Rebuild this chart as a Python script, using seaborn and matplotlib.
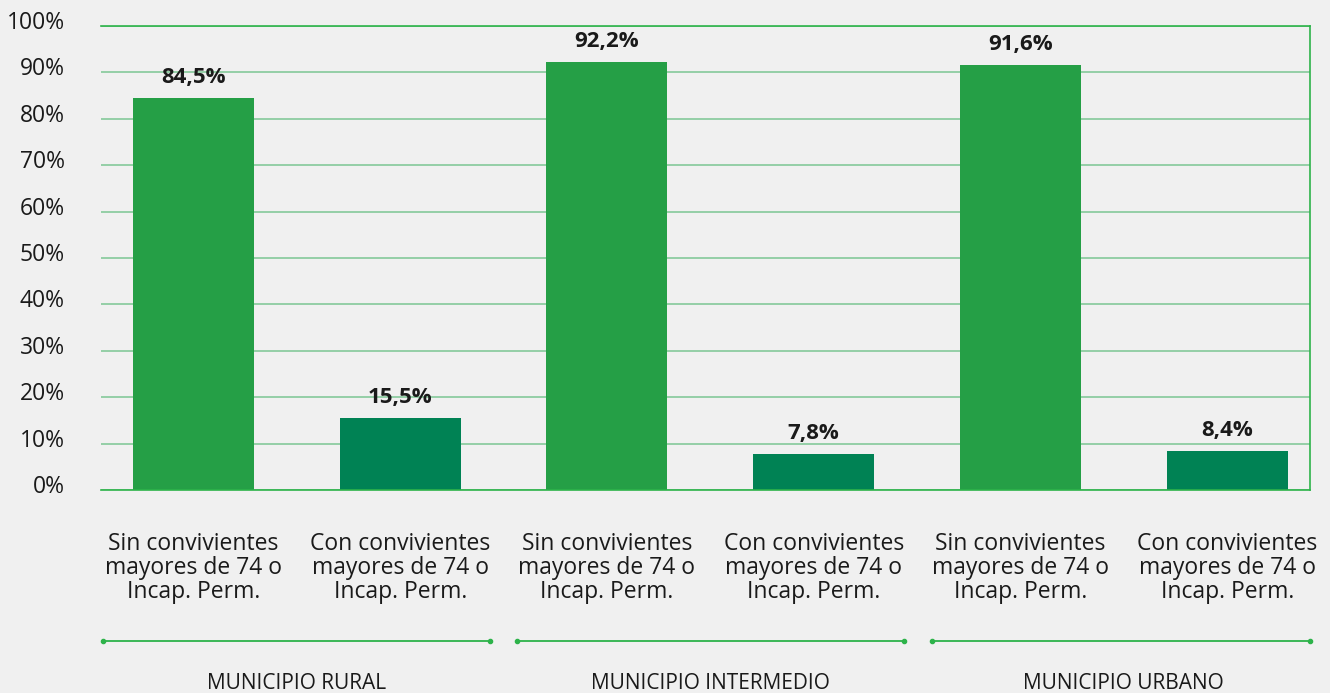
import matplotlib
matplotlib.use("Agg")
import matplotlib.pyplot as plt
import matplotlib.transforms as mtransforms
import numpy as np
import pandas as pd
import seaborn as sns

# ── Data ──────────────────────────────────────────────────────────────────────
grupos  = ["MUNICIPIO RURAL", "MUNICIPIO INTERMEDIO", "MUNICIPIO URBANO"]
tipos   = ["Sin convivientes\nmayores de 74 o\nIncap. Perm.",
           "Con convivientes\nmayores de 74 o\nIncap. Perm."]
valores = [84.5, 15.5, 92.2, 7.8, 91.6, 8.4]
y_ticks = [0, 10, 20, 30, 40, 50, 60, 70, 80, 90, 100]

BG        = "#f0f0f0"
VERDE     = "#259f46"
VERDE_OSC = "#008254"
LINEA     = "#2db34a"
GRID      = "#84c99a"
TEXTO     = "#1a1a1a"

sns.set_theme(style="white")
plt.rcParams["font.family"] = ["Open Sans", "DejaVu Sans"]
plt.rcParams.update({"figure.facecolor": BG, "axes.facecolor": BG})

rows = []
for g in grupos:
    for t in tipos:
        rows.append({"grupo": g, "tipo": t})
df = pd.DataFrame(rows)
df["valor"] = valores
df["clave"] = df["grupo"] + "|" + df["tipo"]

fig = plt.figure(figsize=(13.3, 6.93), dpi=100)
ax = fig.add_axes([0.0759, 0.293, 0.909, 0.6695])

sns.barplot(data=df, x="clave", y="valor", hue="tipo",
            palette=[VERDE, VERDE_OSC], dodge=False, width=0.585,
            saturation=1, linewidth=0, legend=False, ax=ax,
            order=list(df["clave"]))

ax.set_ylim(0, 100)
ax.set_yticks(y_ticks)
ax.set_yticklabels([f"{t}%" for t in y_ticks], fontsize=16.5, color=TEXTO)
ax.set_xticks(range(len(df)))
ax.set_xticklabels(df["tipo"], fontsize=16.5, color=TEXTO, linespacing=1.02)
ax.tick_params(axis="y", length=0, pad=26)
ax.tick_params(axis="x", length=0, pad=30)
ax.set_xlabel("")
ax.set_ylabel("")
ax.set_xlim(-0.447, 5.4)

# y tick labels sit a little above their gridlines
off = mtransforms.ScaledTranslation(0, 6 / 100, fig.dpi_scale_trans)
for lab in ax.get_yticklabels():
    lab.set_transform(lab.get_transform() + off)

# grid
ax.yaxis.grid(True, color=GRID, linewidth=1.2)
ax.set_axisbelow(True)
for side in ["top", "right", "bottom"]:
    ax.spines[side].set_color(LINEA)
    ax.spines[side].set_linewidth(1.2)
ax.spines["left"].set_visible(False)

# value labels
for c in ax.containers:
    ax.bar_label(c, labels=[f"{v:.1f}%".replace(".", ",") for v in c.datavalues],
                 padding=7, fontsize=16, fontweight="bold", color=TEXTO)

# group separators and labels
trans = ax.get_xaxis_transform()
spans = [(-0.437, 1.434), (1.564, 3.436), (3.571, 5.4)]
for i, ((x0, x1), g) in enumerate(zip(spans, grupos)):
    ax.plot([x0, x1], [-0.325, -0.325], transform=trans, color=LINEA,
            linewidth=1.3, marker="o", markersize=3, clip_on=False)
    ax.text(2 * i + 0.5, -0.418, g, transform=trans, ha="center",
            va="center", fontsize=15, color=TEXTO)

fig.savefig("out.png", dpi=100, facecolor=BG)
